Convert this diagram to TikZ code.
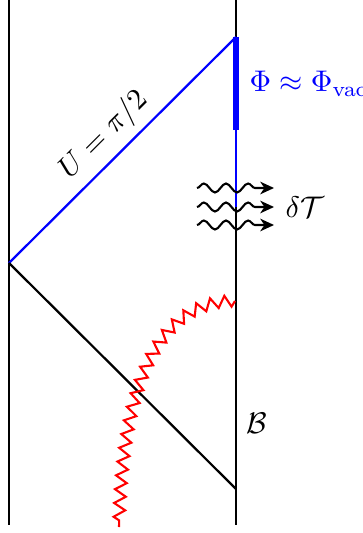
\documentclass[tikz,border=0pt]{standalone}
\usetikzlibrary{decorations.pathmorphing,arrows.meta}
\begin{document}
\begin{tikzpicture}[x=0.335pt,y=-0.335pt,
  wall/.style={line width=0.75pt, line cap=butt},
  bluethin/.style={line width=0.75pt, blue},
  bluethick/.style={line width=2.3pt, blue},
  fire/.style={red, line width=0.7pt, decorate,
    decoration={zigzag, amplitude=1.9pt, segment length=4.6pt}},
  wave/.style={line width=0.7pt, -{Stealth[length=4.6pt,width=4.2pt,inset=1.4pt]}, decorate,
    decoration={snake, amplitude=1.5pt, segment length=7.4pt, post length=4pt}},
  lab/.style={inner sep=0pt}]
\useasboundingbox (0,0) rectangle (362,533);
% coordinates
\coordinate (LT) at (9,0);
\coordinate (LB) at (9,525);
\coordinate (RT) at (236,0);
\coordinate (RB) at (236,525);
\coordinate (P) at (9,263);
\coordinate (Q) at (236,37);
\coordinate (Qthick) at (236,130);
\coordinate (Qthin) at (236,207);
\coordinate (D) at (236,489);
\coordinate (Z0) at (235,301);
\coordinate (Z1) at (119,527);
\foreach \i/\yy in {1/188,2/207,3/225}{
  \coordinate (W\i a) at (197,\yy);
  \coordinate (W\i b) at (274,\yy);
}
% walls
\draw[wall] (LT) -- (LB);
\draw[wall] (RT) -- (RB);
% light rays
\draw[bluethin] (P) -- (Q);
\draw[bluethin] (Q) -- (Qthin);
\draw[bluethick] (Q) -- (Qthick);
\draw[wall] (P) -- (D);
% red zigzag
\draw[fire] (Z0) .. controls (160,301) and (122,380) .. (Z1);
% waves
\foreach \i in {1,2,3}{
  \draw[wave] (W\i a) -- (W\i b);
}
% labels
\node[lab, rotate=45] (ulab) at (104,135) {$U=\pi/2$};
\node[lab, anchor=west, text=blue] (philab) at (249,84) {$\Phi\approx\Phi_{\rm vac}$};
\node[lab, anchor=west] (dtlab) at (285,207) {$\delta\mathcal{T}$};
\node[lab] (blab) at (257,423) {$\mathcal{B}$};
\end{tikzpicture}
\end{document}
